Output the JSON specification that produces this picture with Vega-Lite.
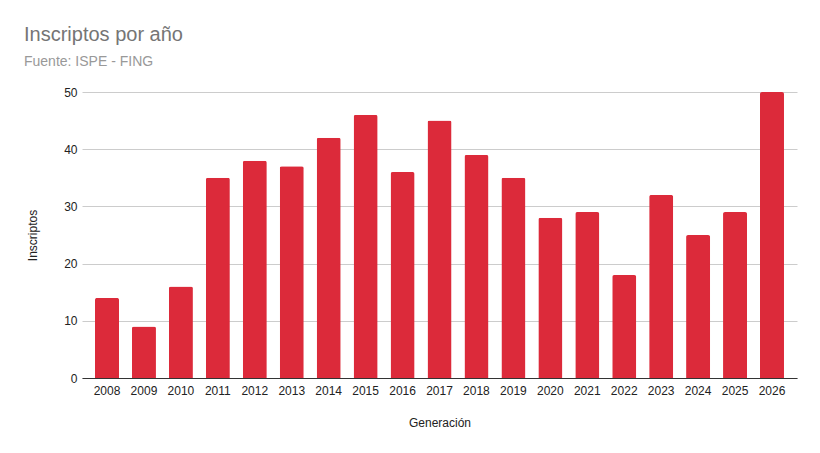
{
  "$schema": "https://vega.github.io/schema/vega-lite/v6.json",
  "autosize": "none",
  "width": 715,
  "height": 286,
  "padding": {"left": 82, "top": 92, "right": 23, "bottom": 75},
  "background": "#ffffff",
  "config": {
    "font": "Liberation Sans",
    "view": {"stroke": null}
  },
  "title": {
    "text": "Inscriptos por año",
    "subtitle": "Fuente: ISPE - FING",
    "anchor": "start",
    "frame": "group",
    "dx": -58,
    "offset": 17,
    "fontSize": 20,
    "fontWeight": "normal",
    "color": "#757575",
    "subtitleFontSize": 14,
    "subtitleColor": "#999999",
    "subtitlePadding": 10
  },
  "data": {
    "values": [
      {"year": "2008", "inscriptos": 14},
      {"year": "2009", "inscriptos": 9},
      {"year": "2010", "inscriptos": 16},
      {"year": "2011", "inscriptos": 35},
      {"year": "2012", "inscriptos": 38},
      {"year": "2013", "inscriptos": 37},
      {"year": "2014", "inscriptos": 42},
      {"year": "2015", "inscriptos": 46},
      {"year": "2016", "inscriptos": 36},
      {"year": "2017", "inscriptos": 45},
      {"year": "2018", "inscriptos": 39},
      {"year": "2019", "inscriptos": 35},
      {"year": "2020", "inscriptos": 28},
      {"year": "2021", "inscriptos": 29},
      {"year": "2022", "inscriptos": 18},
      {"year": "2023", "inscriptos": 32},
      {"year": "2024", "inscriptos": 25},
      {"year": "2025", "inscriptos": 29},
      {"year": "2026", "inscriptos": 50}
    ]
  },
  "mark": {"type": "bar", "color": "#dc2a3a", "cornerRadiusTopLeft": 2, "cornerRadiusTopRight": 2},
  "encoding": {
    "x": {
      "field": "year",
      "type": "ordinal",
      "title": "Generación",
      "scale": {"paddingInner": 0.35, "paddingOuter": 0.352},
      "axis": {
        "labelAngle": 0,
        "labelFontSize": 12,
        "labelColor": "#222222",
        "labelPadding": 7,
        "ticks": false,
        "domainColor": "#333333",
        "domainWidth": 1,
        "titleFontSize": 12,
        "titleFontWeight": "normal",
        "titleColor": "#222222",
        "titleBaseline": "middle",
        "titleY": 44
      }
    },
    "y": {
      "field": "inscriptos",
      "type": "quantitative",
      "title": "Inscriptos",
      "scale": {"domain": [0, 50]},
      "axis": {
        "values": [0, 10, 20, 30, 40, 50],
        "labelFontSize": 12,
        "labelColor": "#222222",
        "labelPadding": 5,
        "ticks": false,
        "domain": false,
        "gridColor": "#cccccc",
        "titleFontSize": 12,
        "titleFontWeight": "normal",
        "titleColor": "#222222",
        "titleX": -50,
        "titleY": 143,
        "titleAngle": -90,
        "titleBaseline": "middle",
        "titleAlign": "center"
      }
    }
  }
}
